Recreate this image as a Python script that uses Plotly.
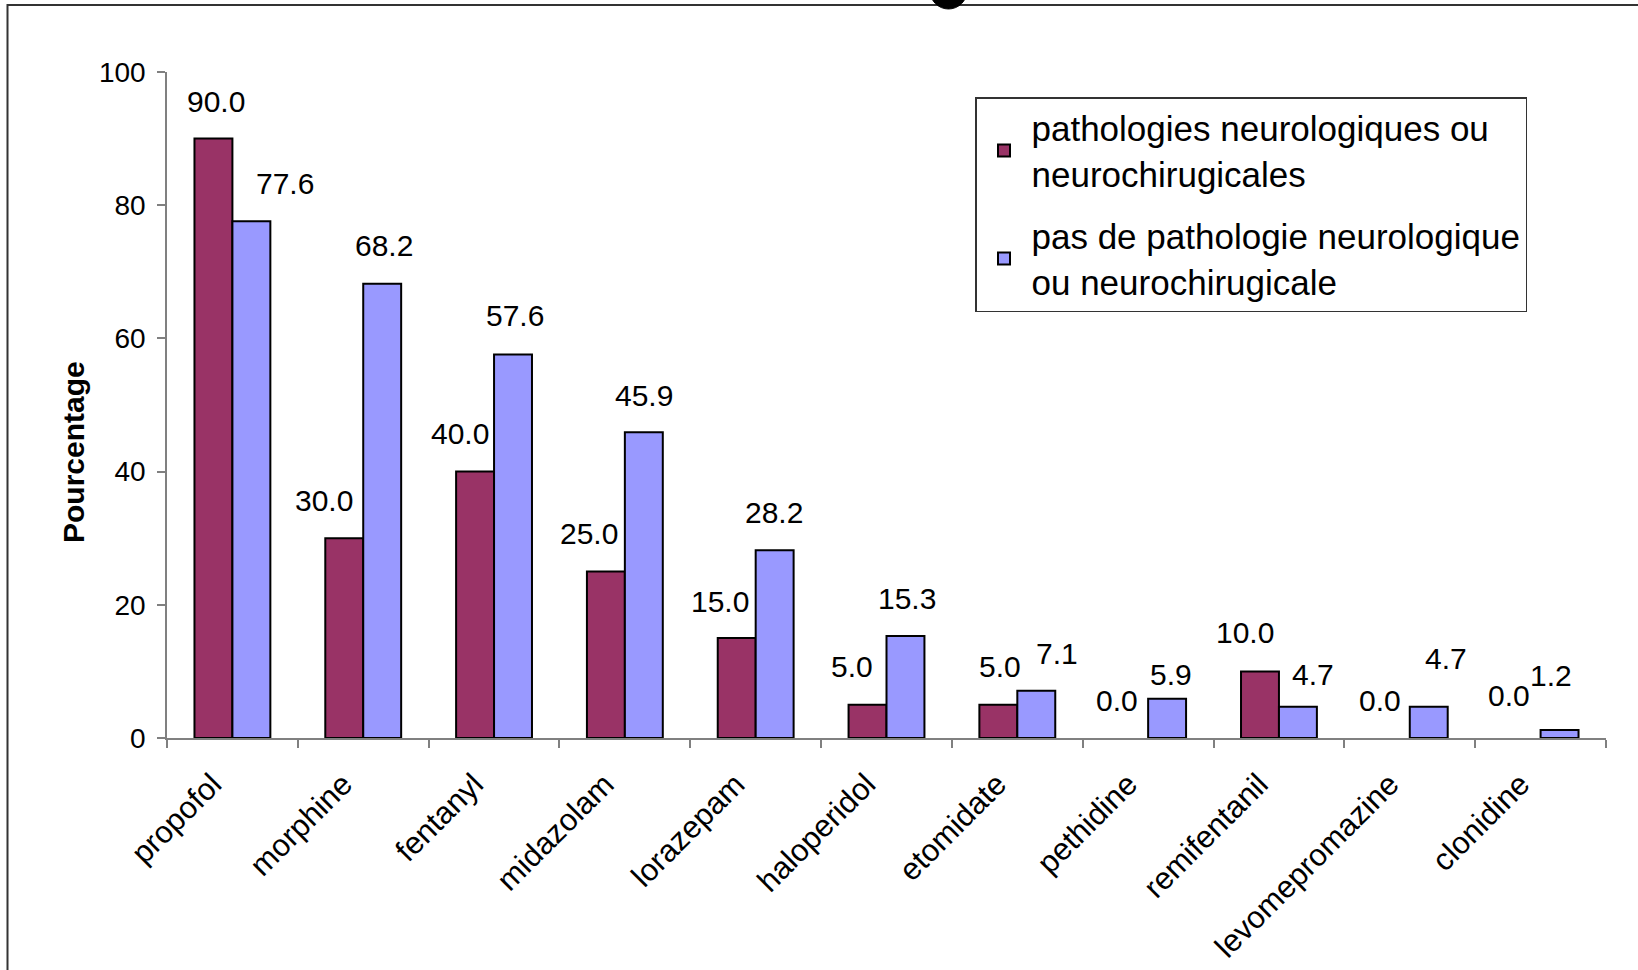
import plotly.graph_objects as go

# ---- data ----
categories = ["propofol", "morphine", "fentanyl", "midazolam", "lorazepam", "haloperidol",
              "etomidate", "pethidine", "remifentanil", "levomepromazine", "clonidine"]
neuro = [90.0, 30.0, 40.0, 25.0, 15.0, 5.0, 5.0, 0.0, 10.0, 0.0, 0.0]
non_neuro = [77.6, 68.2, 57.6, 45.9, 28.2, 15.3, 7.1, 5.9, 4.7, 4.7, 1.2]
name_neuro = "pathologies neurologiques ou<br>neurochirugicales"
name_non = "pas de pathologie neurologique<br>ou neurochirugicale"
y_ticks = [0, 20, 40, 60, 80, 100]

# ---- label placement (style, in pixels) ----
neuro_dx = [3, -20, -15, -17, -17, -16, 2, -12, -15, -11, -13]
neuro_dy = [37, 38, 38, 38, 37, 38, 38, 38, 39, 38, 43]
non_dx = [34, 2, 2, 0, -1, 2, 21, 4, 15, 17, -9]
non_dy = [38, 38, 39, 37, 38, 38, 37, 24, 32, 48, 55]

W, H = 1638, 970
ML, MR, MT, MB = 167, 32, 72, 232
PW, PH = W - ML - MR, H - MT - MB
BARGAP = 0.42
half = PW / len(categories) * (1 - BARGAP) / 4

FONT = "Arial, Liberation Sans, sans-serif"
MAROON = "#993366"
BLUE = "#9999FF"


def outline(vals):
    return [2 if v > 0 else 0 for v in vals]


fig = go.Figure()
fig.add_trace(go.Bar(x=categories, y=neuro, name=name_neuro, legendgroup="a",
                     marker=dict(color=MAROON, line=dict(color="black", width=outline(neuro)))))
fig.add_trace(go.Bar(x=categories, y=non_neuro, name=name_non, legendgroup="b",
                     marker=dict(color=BLUE, line=dict(color="black", width=outline(non_neuro)))))

ann = []
for i, c in enumerate(categories):
    ann.append(dict(x=c, y=neuro[i], xref="x", yref="y", text=f"{neuro[i]:.1f}",
                    showarrow=False, xshift=-half + neuro_dx[i], yshift=neuro_dy[i],
                    yanchor="middle", font=dict(size=30, color="black", family=FONT)))
    ann.append(dict(x=c, y=non_neuro[i], xref="x", yref="y", text=f"{non_neuro[i]:.1f}",
                    showarrow=False, xshift=half + non_dx[i], yshift=non_dy[i],
                    yanchor="middle", font=dict(size=30, color="black", family=FONT)))


def px(xp):
    return (xp - ML) / PW


def py(yp):
    return (H - MB - yp) / PH


ann.append(dict(x=px(73), y=py(452), xref="paper", yref="paper", text="<b>Pourcentage</b>",
                textangle=-90, showarrow=False, xanchor="center", yanchor="middle",
                font=dict(size=30, color="black", family=FONT)))

shapes = [
    dict(type="rect", xref="paper", yref="paper", x0=px(7.5), y0=py(5), x1=px(1660), y1=py(1000),
         line=dict(color="#333333", width=2), fillcolor="rgba(0,0,0,0)", layer="below"),
    dict(type="circle", xref="paper", yref="paper", x0=px(930), x1=px(967), y0=py(-28), y1=py(9),
         line=dict(color="black", width=1), fillcolor="black"),
]

fig.update_layout(
    width=W, height=H,
    margin=dict(l=ML, r=MR, t=MT, b=MB, autoexpand=False),
    paper_bgcolor="white", plot_bgcolor="white",
    barmode="group", bargap=BARGAP, bargroupgap=0,
    font=dict(family=FONT, color="black"),
    annotations=ann, shapes=shapes,
    legend=dict(x=px(975), y=py(97), xanchor="left", yanchor="top",
                bgcolor="white", bordercolor="#333333", borderwidth=1.5,
                font=dict(size=35, family=FONT, color="black"),
                tracegroupgap=14, itemwidth=45),
    xaxis=dict(showline=True, linecolor="#808080", linewidth=1.5, ticks="outside",
               tickson="boundaries", ticklen=8, tickcolor="#808080", tickwidth=1.5,
               tickangle=-45, tickfont=dict(size=31, family=FONT, color="black"),
               ticklabelstandoff=14, ticklabelshift=-20,
               showgrid=False, zeroline=False),
    yaxis=dict(range=[0, 100], tickvals=y_ticks, showline=True, linecolor="#808080", linewidth=1.5,
               ticks="outside", ticklen=8, tickcolor="#808080", tickwidth=1.5,
               tickfont=dict(size=28, family=FONT, color="black"),
               showgrid=False, zeroline=False, ticklabelstandoff=6),
)

fig.write_html("out.html", config={"displayModeBar": False},
               post_script="document.body.style.margin='0';")
